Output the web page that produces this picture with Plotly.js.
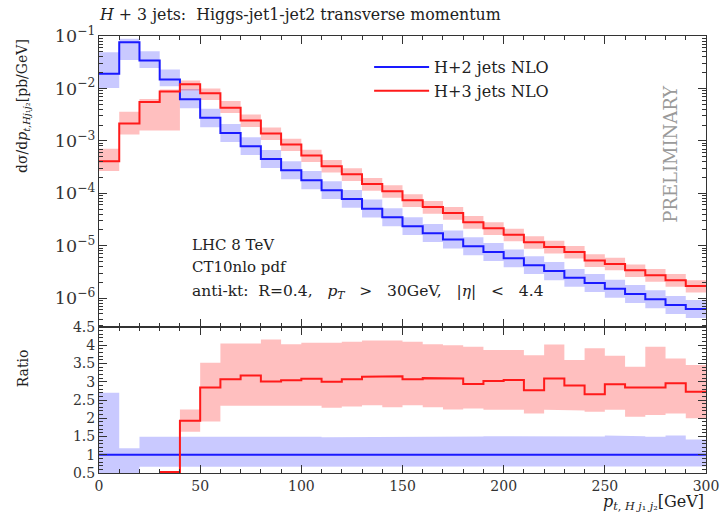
<!DOCTYPE html>
<html><head><meta charset="utf-8">
<script src="https://cdn.plot.ly/plotly-3.0.1.min.js"></script>
<style>html,body{margin:0;padding:0;background:#fff}#chart{width:721px;height:520px}</style>
</head><body><div id="chart"></div>
<script>
// bin edges in GeV
const binEdges = [0,10,20,30,40,50,60,70,80,90,100,110,120,130,140,150,160,170,180,190,200,210,220,230,240,250,260,270,280,290,300];

// H+2 jets NLO (pb/GeV)
const blueNLO = [1.9e-2,7.6e-2,3.4e-2,1.48e-2,6.2e-3,2.75e-3,1.41e-3,7.9e-4,4.5e-4,2.75e-4,1.78e-4,1.15e-4,7.8e-5,5.1e-5,3.5e-5,2.35e-5,1.74e-5,1.32e-5,9.8e-6,7.6e-6,5.75e-6,4.27e-6,3.3e-6,2.45e-6,1.95e-6,1.51e-6,1.2e-6,9.5e-7,7.4e-7,6.2e-7];
const blueLo = [1.02e-2,3.5e-2,2.45e-2,1.1e-2,4.2e-3,1.82e-3,9.5e-4,5.4e-4,3.05e-4,1.86e-4,1.2e-4,7.8e-5,5.3e-5,3.45e-5,2.35e-5,1.6e-5,1.18e-5,8.9e-6,6.6e-6,5.1e-6,3.9e-6,2.9e-6,2.2e-6,1.66e-6,1.32e-6,1.02e-6,8.1e-7,6.4e-7,5.0e-7,4.2e-7];
const blueHi = [4.9e-2,8.9e-2,5.1e-2,2.3e-2,9.8e-3,4.1e-3,2.1e-3,1.17e-3,6.7e-4,4.1e-4,2.65e-4,1.7e-4,1.16e-4,7.6e-5,5.2e-5,3.5e-5,2.6e-5,1.96e-5,1.45e-5,1.13e-5,8.5e-6,6.3e-6,4.9e-6,3.6e-6,2.9e-6,2.25e-6,1.78e-6,1.41e-6,1.1e-6,9.2e-7];

// H+3 jets NLO (pb/GeV)
const redNLO = [4.1e-4,2.15e-3,5.5e-3,8.7e-3,1.2e-2,8.1e-3,4.3e-3,2.45e-3,1.38e-3,8.5e-4,5.25e-4,3.3e-4,2.3e-4,1.5e-4,1.1e-4,7.4e-5,5.5e-5,4.2e-5,2.8e-5,2.15e-5,1.62e-5,1.17e-5,9.5e-6,7.6e-6,5.25e-6,4.5e-6,3.4e-6,2.75e-6,2.2e-6,1.7e-6];
const redLo = [2.65e-4,1.32e-3,1.58e-3,1.58e-3,9.1e-3,6.0e-3,3.4e-3,1.84e-3,1.04e-3,6.4e-4,3.95e-4,2.5e-4,1.72e-4,1.12e-4,8.2e-5,5.5e-5,4.1e-5,3.15e-5,2.1e-5,1.6e-5,1.22e-5,8.8e-6,7.1e-6,5.7e-6,3.95e-6,3.4e-6,2.55e-6,2.05e-6,1.65e-6,1.28e-6];
const redHi = [7.1e-4,3.6e-3,6.3e-3,9.5e-3,1.41e-2,1.0e-2,5.75e-3,3.2e-3,1.8e-3,1.1e-3,6.8e-4,4.3e-4,3.0e-4,1.95e-4,1.43e-4,9.6e-5,7.1e-5,5.5e-5,3.7e-5,2.8e-5,2.1e-5,1.52e-5,1.24e-5,9.9e-6,6.9e-6,5.9e-6,4.4e-6,3.6e-6,2.9e-6,2.2e-6];

// Ratio panel
const ratioBlue = [1,1,1,1,1,1,1,1,1,1,1,1,1,1,1,1,1,1,1,1,1,1,1,1,1,1,1,1,1,1];
const ratioBlueLo = [0.5,0.5,0.67,0.67,0.67,0.67,0.67,0.67,0.67,0.67,0.67,0.67,0.67,0.67,0.67,0.67,0.67,0.67,0.67,0.67,0.67,0.67,0.67,0.67,0.67,0.67,0.67,0.67,0.67,0.68];
const ratioBlueHi = [2.70,1.18,1.49,1.49,1.49,1.49,1.51,1.50,1.49,1.49,1.49,1.48,1.48,1.49,1.49,1.49,1.49,1.48,1.50,1.51,1.50,1.50,1.50,1.49,1.50,1.53,1.51,1.49,1.53,1.42];
const ratioRed = [null,null,null,0.53,1.93,2.84,3.07,3.17,3.01,3.04,3.08,3.00,3.07,3.14,3.15,3.07,3.10,3.09,2.94,3.02,3.05,2.77,3.09,2.90,2.66,2.93,2.84,2.84,2.96,2.73];
const ratioRedLo = [null,null,null,null,1.63,1.91,2.34,2.36,2.36,2.36,2.34,2.29,2.32,2.36,2.30,2.36,2.30,2.24,2.27,2.23,2.23,2.13,2.23,2.21,2.18,2.23,2.04,2.09,2.13,2.00];
const ratioRedHi = [null,null,null,null,2.24,3.52,4.05,4.05,4.16,4.03,4.07,4.07,4.10,4.13,4.13,4.10,4.03,4.00,3.96,3.87,3.87,3.73,4.02,3.60,3.92,3.71,3.41,3.96,3.64,3.46];

const seriesNames = ['H+2 jets NLO','H+3 jets NLO'];
const xTickVals = [0,50,100,150,200,250,300];
const ratioTickVals = [0.5,1,1.5,2,2.5,3,3.5,4,4.5];

const BLUE = '#1a1aff', RED = '#ff1a1a';
const BLUE_BAND = 'rgba(0,0,255,0.21)', RED_BAND = 'rgba(255,0,0,0.25)';

function stepLine(vals){
  const x=[], y=[];
  for(let i=0;i<vals.length;i++){
    if(vals[i]==null){ if(x.length && x[x.length-1]!==null){x.push(null);y.push(null);} continue; }
    x.push(binEdges[i], binEdges[i+1]); y.push(vals[i], vals[i]);
  }
  return {x, y};
}
function bandPoly(lo, hi){
  const X=[], Y=[]; const n=lo.length; let i=0;
  while(i<n){
    if(lo[i]==null){ i++; continue; }
    let j=i; while(j<n && lo[j]!=null) j++;
    for(let k=i;k<j;k++){ X.push(binEdges[k], binEdges[k+1]); Y.push(hi[k], hi[k]); }
    for(let k=j-1;k>=i;k--){ X.push(binEdges[k+1], binEdges[k]); Y.push(lo[k], lo[k]); }
    X.push(null); Y.push(null);
    i=j;
  }
  return {x:X, y:Y};
}
function band(lo, hi, color, xa, ya){
  const p = bandPoly(lo, hi);
  return {x:p.x, y:p.y, xaxis:xa, yaxis:ya, type:'scatter', mode:'lines', fill:'toself',
    fillcolor:color, line:{width:0, color:color}, hoverinfo:'skip', showlegend:false};
}
function line(vals, color, xa, ya, name, show){
  const s = stepLine(vals);
  return {x:s.x, y:s.y, xaxis:xa, yaxis:ya, type:'scatter', mode:'lines', name:name,
    line:{color:color, width:2}, showlegend:show, hoverinfo:'skip'};
}

const data = [
  band(blueLo, blueHi, BLUE_BAND, 'x2', 'y2'),
  band(redLo, redHi, RED_BAND, 'x2', 'y2'),
  line(blueNLO, BLUE, 'x2', 'y2', seriesNames[0], true),
  line(redNLO, RED, 'x2', 'y2', seriesNames[1], true),
  band(ratioBlueLo, ratioBlueHi, BLUE_BAND, 'x', 'y'),
  band(ratioRedLo, ratioRedHi, RED_BAND, 'x', 'y'),
  line(ratioBlue, BLUE, 'x', 'y', seriesNames[0], false),
  line(ratioRed, RED, 'x', 'y', seriesNames[1], false)
];

const AX = '#333';
const FONT = 'DejaVu Serif';
const S = '\u00A0';
const xCommon = {range:[0,300], tickvals:xTickVals, ticks:'inside', ticklen:8, tickcolor:AX, tickwidth:1,
  showline:true, linecolor:AX, linewidth:1, mirror:'allticks', showgrid:false, zeroline:false,
  minor:{dtick:10, tick0:0, ticks:'inside', ticklen:4, tickcolor:AX, showgrid:false}};

const layout = {
  width:721, height:520,
  margin:{l:99, r:15, t:36, b:47},
  paper_bgcolor:'#fff', plot_bgcolor:'#fff',
  font:{family:FONT, size:14, color:'#222'},
  showlegend:true,
  legend:{x:0.445, y:0.968, xanchor:'left', yanchor:'top', bgcolor:'rgba(0,0,0,0)', itemwidth:55,
    font:{family:FONT, size:16, color:'#222'}, tracegroupgap:0},
  xaxis:Object.assign({}, xCommon, {domain:[0,1], anchor:'y', tickfont:{family:FONT, size:14, color:'#333'}}),
  xaxis2:Object.assign({}, xCommon, {domain:[0,1], anchor:'y2', matches:'x', showticklabels:false}),
  yaxis:{domain:[0,0.334], range:[0.5,4.5], tickvals:ratioTickVals, ticks:'inside', ticklen:8, tickcolor:AX,
    showline:true, linecolor:AX, linewidth:1, mirror:'allticks', showgrid:false, zeroline:false,
    tickfont:{family:FONT, size:14, color:'#333'},
    minor:{dtick:0.1, tick0:0.5, ticks:'inside', ticklen:4, tickcolor:AX, showgrid:false}},
  yaxis2:{domain:[0.334,1], type:'log', range:[-6.55,-1], dtick:1, exponentformat:'power', showexponent:'all',
    ticks:'inside', ticklen:8, tickcolor:AX, showline:true, linecolor:AX, linewidth:1, mirror:'allticks',
    showgrid:false, zeroline:false, tickfont:{family:FONT, size:14, color:'#333'},
    minor:{dtick:'D1', ticks:'inside', ticklen:4, tickcolor:AX, showgrid:false}},
  annotations:[
    {text:'<i>H</i> + 3 jets:  Higgs-jet1-jet2 transverse momentum', xref:'paper', yref:'paper', x:-0.003, y:1.05,
      xanchor:'left', yanchor:'middle', showarrow:false, font:{family:FONT, size:15.8, color:'#222'}},
    {text:'dσ/d<i>p</i><sub><i>t</i>,<i>Hj</i>₁<i>j</i>₂</sub>[pb/GeV]', xref:'paper', yref:'paper', x:-0.125, y:0.84,
      xanchor:'center', yanchor:'middle', textangle:-90, showarrow:false, font:{family:FONT, size:14, color:'#222'}},
    {text:'Ratio', xref:'paper', yref:'paper', x:-0.125, y:0.24, xanchor:'center', yanchor:'middle',
      textangle:-90, showarrow:false, font:{family:FONT, size:14, color:'#222'}},
    {text:'<i>p</i><sub><i>t</i>,' + S + '<i>H</i>' + S + '<i>j</i>₁' + S + '<i>j</i>₂</sub>[GeV]', xref:'paper', yref:'paper', x:1, y:-0.068,
      xanchor:'right', yanchor:'middle', showarrow:false, font:{family:FONT, size:16, color:'#222'}},
    {text:'PRELIMINARY', xref:'paper', yref:'paper', x:0.942, y:0.73, xanchor:'center', yanchor:'middle',
      textangle:-90, showarrow:false, font:{family:FONT, size:18, color:'#9a9a9a'}},
    {text:'LHC 8 TeV', xref:'paper', yref:'paper', x:0.15, y:0.522, xanchor:'left', yanchor:'middle',
      showarrow:false, font:{family:FONT, size:15, color:'#222'}},
    {text:'CT10nlo pdf', xref:'paper', yref:'paper', x:0.15, y:0.471, xanchor:'left', yanchor:'middle',
      showarrow:false, font:{family:FONT, size:15, color:'#222'}},
    {text:'anti-kt:' + S+S + 'R=0.4,' + S+S+S + '<i>p<sub>T</sub></i>' + S+S+S + '>' + S+S+S + '30GeV,' + S+S+S + '|<i>η</i>|' + S+S+S + '<' + S+S+S + '4.4',
      xref:'paper', yref:'paper', x:0.15, y:0.414,
      xanchor:'left', yanchor:'middle', showarrow:false, font:{family:FONT, size:15.5, color:'#222'}}
  ]
};

Plotly.newPlot('chart', data, layout, {displayModeBar:false, staticPlot:true});
</script>
</body></html>
